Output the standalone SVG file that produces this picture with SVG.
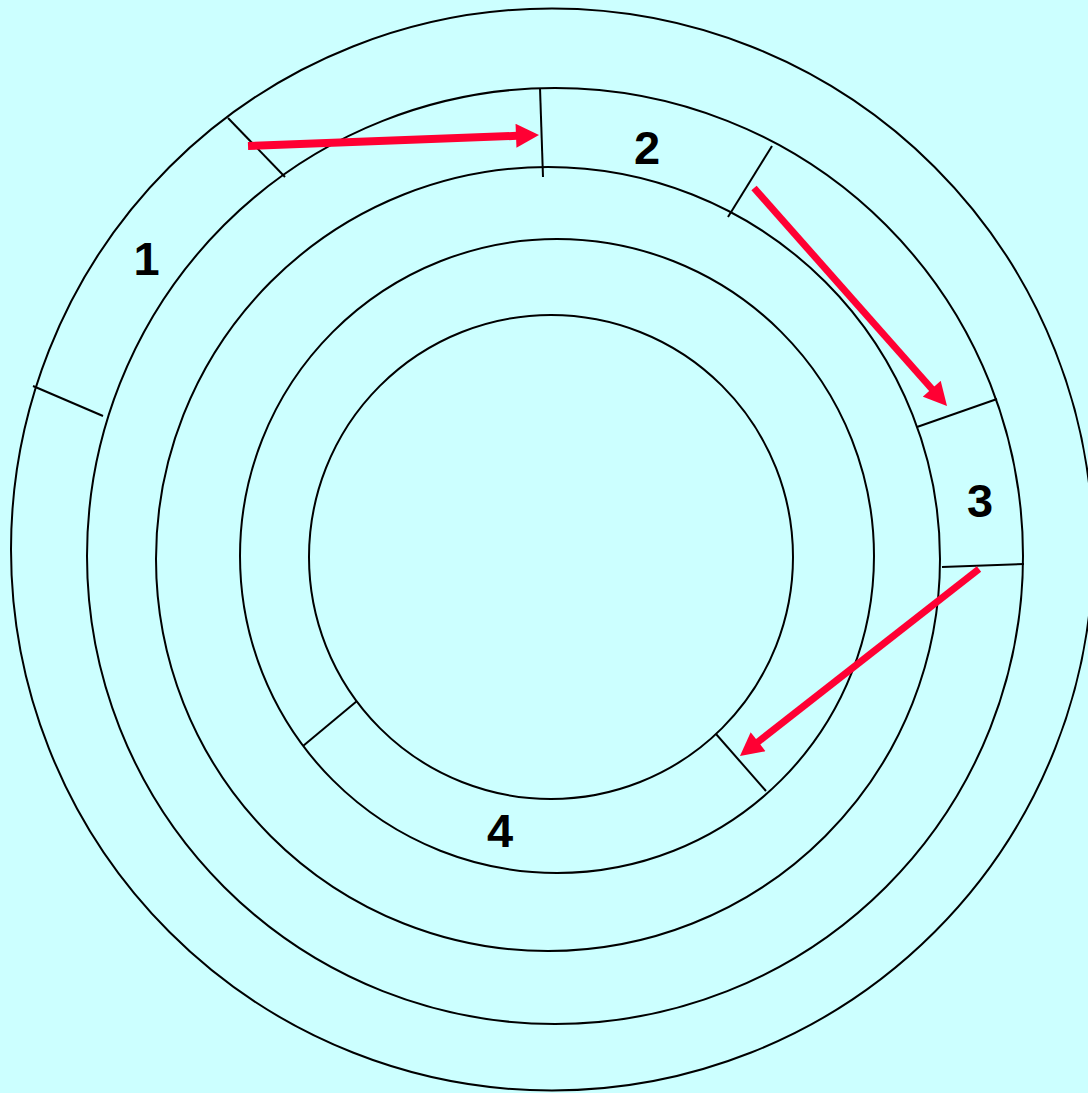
<svg xmlns="http://www.w3.org/2000/svg" width="1088" height="1093" viewBox="0 0 1088 1093">
<style>
.ring{fill:none;stroke:#000;stroke-width:2}
.div{stroke:#000;stroke-width:2;fill:none}
.arr{stroke:#FF0033;fill:none}
.lbl{font-family:"Liberation Sans",Arial,sans-serif;font-weight:bold;font-size:47px;fill:#000;text-anchor:middle}
</style>
<defs>
<marker id="head" markerUnits="userSpaceOnUse" markerWidth="24" markerHeight="24" viewBox="0 0 23 24" refX="1" refY="12" orient="auto">
<path d="M0,0 L23,12 L0,24 Z" fill="#FF0033"/>
</marker>
</defs>
<rect width="1088" height="1093" fill="#CCFFFF"/>
<g id="rings">
<circle class="ring" cx="552" cy="549.5" r="541"/>
<circle class="ring" cx="555" cy="556" r="468"/>
<circle class="ring" cx="548" cy="559" r="392"/>
<circle class="ring" cx="557" cy="556" r="317"/>
<circle class="ring" cx="551" cy="557" r="242"/>
</g>
<g id="dividers">
<line class="div" x1="228" y1="118" x2="285" y2="177"/>
<line class="div" x1="33" y1="386" x2="103" y2="416"/>
<line class="div" x1="540" y1="88" x2="543" y2="177"/>
<line class="div" x1="772" y1="146" x2="728" y2="217"/>
<line class="div" x1="917" y1="427" x2="997" y2="399"/>
<line class="div" x1="942" y1="567" x2="1024" y2="564"/>
<line class="div" x1="303" y1="746" x2="357" y2="701"/>
<line class="div" x1="716" y1="734" x2="766" y2="791"/>
</g>
<g id="node-1"><text class="lbl" x="146.5" y="275">1</text></g>
<g id="node-2"><text class="lbl" x="647" y="164">2</text></g>
<g id="node-3"><text class="lbl" x="980" y="517">3</text></g>
<g id="node-4"><text class="lbl" x="500" y="847">4</text></g>
<g id="connectors">
<line class="arr" stroke-width="8" x1="248" y1="146" x2="517" y2="135.8" marker-end="url(#head)"/>
<line class="arr" stroke-width="7" x1="754" y1="188" x2="932.4" y2="389.5" marker-end="url(#head)"/>
<line class="arr" stroke-width="7" x1="979" y1="569" x2="757.3" y2="742.4" marker-end="url(#head)"/>
</g>
</svg>
